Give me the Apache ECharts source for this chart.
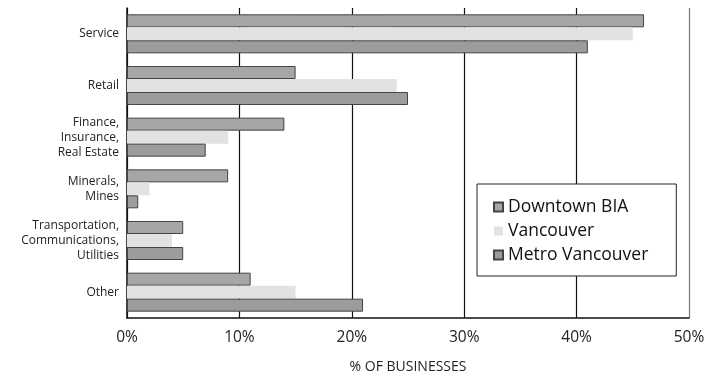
<!DOCTYPE html>
<html>
<head>
<meta charset="utf-8">
<script src="https://cdn.jsdelivr.net/npm/echarts@6/dist/echarts.min.js"></script>
<style>
  html, body { margin: 0; padding: 0; background: #fff; }
  #chart { width: 722px; height: 381px; }
</style>
</head>
<body>
<div id="chart"></div>
<script>
var categories = ['Service', 'Retail', 'Finance,\nInsurance,\nReal Estate', 'Minerals,\nMines', 'Transportation,\nCommunications,\nUtilities', 'Other'];
var downtownBIA = [46, 15, 14, 9, 5, 11];
var vancouver = [45, 24, 9, 2, 4, 15];
var metroVancouver = [41, 25, 7, 1, 5, 21];
var xTicks = [0, 10, 20, 30, 40, 50];

var chart = echarts.init(document.getElementById('chart'));

var font = 'Open Sans';

var option = {
  animation: false,
  textStyle: { fontFamily: font },
  grid: { left: 127, right: 33, top: 8, bottom: 63 },
  legend: {
    orient: 'vertical',
    left: 477,
    top: 184,
    padding: [14, 28, 12, 16],
    itemGap: 6,
    itemWidth: 9,
    itemHeight: 9,
    icon: 'rect',
    backgroundColor: '#fff',
    borderColor: '#222',
    borderWidth: 1,
    borderRadius: 0,
    textStyle: { fontSize: 17.5, color: '#111', fontFamily: font },
    data: ['Downtown BIA', 'Vancouver', 'Metro Vancouver']
  },
  xAxis: {
    type: 'value',
    min: 0,
    max: 50,
    interval: 10,
    name: '% OF BUSINESSES',
    nameLocation: 'middle',
    nameGap: 42,
    nameTextStyle: { fontSize: 14, color: '#222' },
    axisLine: { show: true, lineStyle: { color: '#111', width: 1.5 } },
    axisTick: { show: false },
    axisLabel: {
      fontSize: 15.5, color: '#222', margin: 12,
      formatter: function (v) { return xTicks.indexOf(v) >= 0 ? v + '%' : ''; }
    },
    splitLine: { show: true, lineStyle: { color: ['#111', '#111', '#111', '#111', '#111', '#777'], width: 1.2 } }
  },
  yAxis: {
    type: 'category',
    data: categories,
    inverse: true,
    axisLine: { show: true, lineStyle: { color: '#111', width: 1.5 } },
    axisTick: { show: false },
    axisLabel: { fontSize: 12, color: '#222', lineHeight: 15, margin: 8 }
  },
  series: [
    {
      name: 'Downtown BIA', type: 'bar', data: downtownBIA,
      barWidth: 13, barGap: '0%',
      itemStyle: { color: '#a6a6a6', borderColor: '#444', borderWidth: 1 }
    },
    {
      name: 'Vancouver', type: 'bar', data: vancouver,
      barWidth: 13, barGap: '0%',
      itemStyle: { color: '#e2e2e2' }
    },
    {
      name: 'Metro Vancouver', type: 'bar', data: metroVancouver,
      barWidth: 13, barGap: '0%',
      itemStyle: { color: '#9c9c9c', borderColor: '#444', borderWidth: 1 }
    }
  ]
};

chart.setOption(option);

window.addEventListener('resize', function () {
  chart.resize();
});
</script>
</body>
</html>
